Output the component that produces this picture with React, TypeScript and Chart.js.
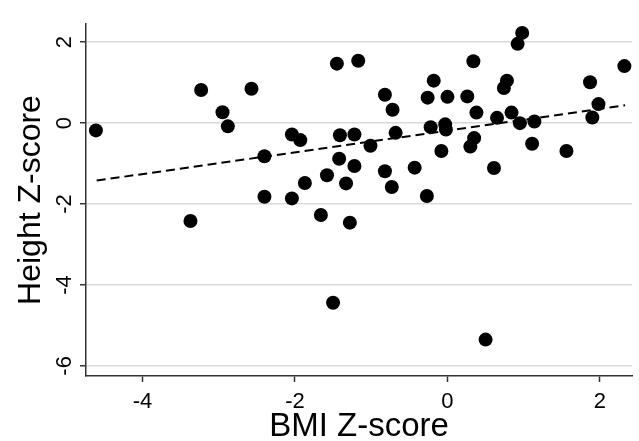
import React, { useEffect, useRef } from "react";
import { Chart, registerables } from "chart.js";

Chart.register(...registerables);

// BMI Z-score (x) and Height Z-score (y) for each child
const bmiZ = [
  -4.61, -3.37, -3.23, -2.95, -2.88, -2.57, -2.40, -2.40, -2.04, -1.93,
  -1.87, -2.04, -1.66, -1.58, -1.50, -1.45, -1.41, -1.42, -1.33, -1.28,
  -1.22, -1.22, -1.17, -1.01, -0.82, -0.82, -0.73, -0.72, -0.68, -0.43,
  -0.27, -0.26, -0.22, -0.18, -0.08, -0.03, -0.02, 0.00, 0.26, 0.30,
  0.34, 0.35, 0.38, 0.50, 0.61, 0.65, 0.74, 0.78, 0.84, 0.92,
  0.95, 0.98, 1.11, 1.14, 1.56, 1.87, 1.90, 1.98, 2.32,
];
const heightZ = [
  -0.18, -2.42, 0.82, 0.27, -0.08, 0.85, -0.82, -1.82, -0.28, -0.42,
  -1.48, -1.86, -2.27, -1.29, -4.44, 1.47, -0.30, -0.88, -1.49, -2.46,
  -0.28, -1.06, 1.54, -0.56, 0.70, -1.19, -1.58, 0.33, -0.24, -1.10,
  -1.80, 0.63, -0.10, 1.05, -0.69, -0.03, -0.16, 0.65, 0.66, -0.58,
  1.53, -0.37, 0.26, -5.35, -1.11, 0.13, 0.87, 1.05, 0.26, 1.96,
  0.00, 2.23, -0.51, 0.04, -0.69, 1.01, 0.14, 0.47, 1.41,
];

// Linear fit line end points
const fitX = [-4.6, 2.33];
const fitY = [-1.42, 0.44];

const xTicks = [-4, -2, 0, 2];
const yTicks = [-6, -4, -2, 0, 2];
const xTitle = "BMI Z-score";
const yTitle = "Height Z-score";

const FONT = "'Liberation Sans', Arial, Helvetica, sans-serif";

export default function App() {
  const ref = useRef<HTMLCanvasElement>(null);

  useEffect(() => {
    document.body.style.margin = "0";
    const canvas = ref.current;
    if (!canvas) return;
    const chart = new Chart(canvas, {
      type: "scatter",
      data: {
        datasets: [
          {
            data: fitX.map((x, i) => ({ x, y: fitY[i] })),
            showLine: true,
            borderColor: "#000",
            backgroundColor: "#000",
            borderWidth: 2,
            borderDash: [9, 5],
            pointRadius: 0,
            fill: false,
            clip: false as any,
          },
          {
            data: bmiZ.map((x, i) => ({ x, y: heightZ[i] })),
            backgroundColor: "#000",
            borderColor: "#000",
            borderWidth: 0,
            pointRadius: 7,
            clip: false as any,
          },
        ],
      },
      options: {
        responsive: false,
        animation: false,
        events: [],
        layout: { padding: { top: 24, right: 0, left: 0, bottom: 0 } },
        plugins: {
          legend: { display: false },
          tooltip: { enabled: false },
        },
        scales: {
          x: {
            type: "linear",
            min: -4.74,
            max: 2.42,
            afterBuildTicks: (s: any) => {
              s.ticks = xTicks.map((v) => ({ value: v }));
            },
            afterFit: (s: any) => {
              s.height = 65;
            },
            grid: {
              drawOnChartArea: false,
              drawTicks: true,
              tickLength: 6,
              tickColor: "#333",
              tickWidth: 1.5,
            },
            border: { color: "#333", width: 1.5 },
            ticks: {
              color: "#000",
              font: { family: FONT, size: 22 },
              padding: 7,
              minRotation: 0,
              maxRotation: 0,
              callback: (v: any) => String(v),
            },
            title: {
              display: true,
              text: xTitle,
              color: "#000",
              font: { family: FONT, size: 33, lineHeight: 0.85 },
              padding: { top: 0, bottom: 0 },
            },
          },
          y: {
            type: "linear",
            min: -6.25,
            max: 2.45,
            afterBuildTicks: (s: any) => {
              s.ticks = yTicks.map((v) => ({ value: v }));
            },
            afterFit: (s: any) => {
              s.width = 86;
            },
            grid: {
              drawOnChartArea: true,
              color: "#d9d9d9",
              lineWidth: 1.5,
              drawTicks: true,
              tickLength: 6,
              tickColor: "#333",
              tickWidth: 1.5,
            },
            border: { color: "#333", width: 1.5 },
            ticks: {
              color: "#000",
              font: { family: FONT, size: 22 },
              padding: 5,
              minRotation: 90,
              maxRotation: 90,
              crossAlign: "center",
              callback: (v: any) => String(v),
            },
            title: {
              display: true,
              text: yTitle,
              color: "#000",
              font: { family: FONT, size: 32, lineHeight: 0.85 },
              padding: { top: 18, bottom: 0 },
            },
          },
        },
      },
    });
    return () => chart.destroy();
  }, []);

  return (
    <canvas
      ref={ref}
      width={639}
      height={441}
      style={{ display: "block", width: 639, height: 441 }}
    />
  );
}
